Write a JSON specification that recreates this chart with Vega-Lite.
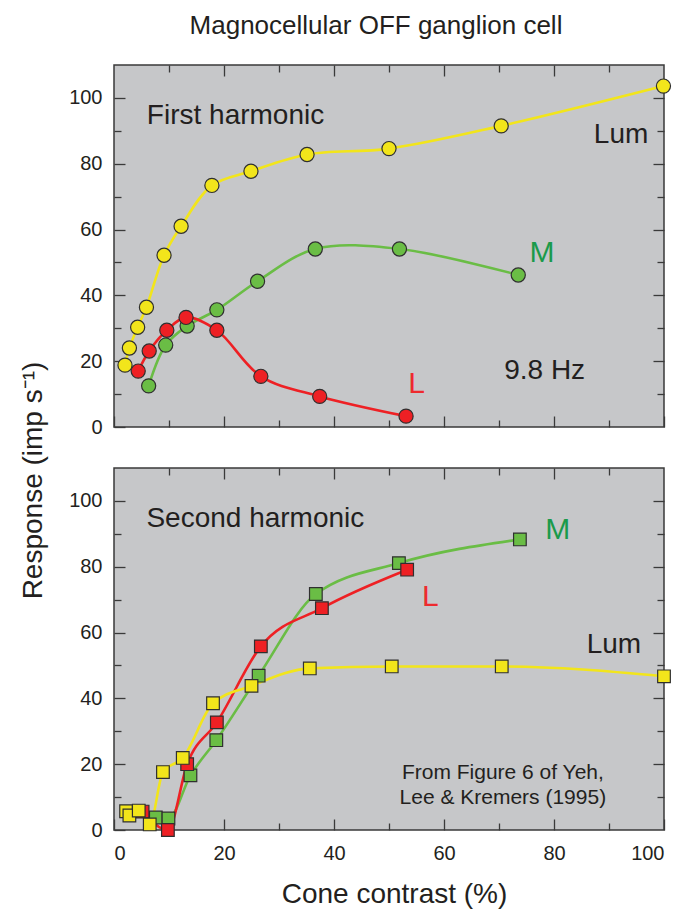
{
  "$schema": "https://vega.github.io/schema/vega-lite/v6.json",
  "padding": {"left": 18, "top": 12, "right": 5, "bottom": 3},
  "background": "white",
  "title": {"text": "Magnocellular OFF ganglion cell", "fontSize": 26, "font": "Liberation Sans", "fontWeight": "normal", "color": "#231f20", "anchor": "middle", "frame": "group", "dx": -13, "offset": 4, "baseline": "alphabetic"},
  "config": {
    "font": "Liberation Sans",
    "view": {"fill": "#c6c7c9", "stroke": "#3a3a3a", "strokeWidth": 1.5},
    "axis": {"domain": false, "grid": false, "tickColor": "#3a3a3a", "tickWidth": 1.3, "labelFont": "Liberation Sans", "labelFontSize": 20, "labelColor": "#231f20", "titleFont": "Liberation Sans", "titleFontWeight": "normal", "titleColor": "#231f20", "titleFontSize": 28}
  },
  "datasets": {
    "pts": [
      {"h": "First", "cone": "M", "c": 6.3, "r": 12.5},
      {"h": "First", "cone": "M", "c": 9.4, "r": 24.9},
      {"h": "First", "cone": "M", "c": 13.3, "r": 30.7},
      {"h": "First", "cone": "M", "c": 18.7, "r": 35.6},
      {"h": "First", "cone": "M", "c": 26.1, "r": 44.3},
      {"h": "First", "cone": "M", "c": 36.6, "r": 54.1},
      {"h": "First", "cone": "M", "c": 51.9, "r": 54.1},
      {"h": "First", "cone": "M", "c": 73.5, "r": 46.2},
      {"h": "First", "cone": "L", "c": 4.4, "r": 17.0},
      {"h": "First", "cone": "L", "c": 6.4, "r": 23.1},
      {"h": "First", "cone": "L", "c": 9.6, "r": 29.4},
      {"h": "First", "cone": "L", "c": 13.1, "r": 33.3},
      {"h": "First", "cone": "L", "c": 18.7, "r": 29.4},
      {"h": "First", "cone": "L", "c": 26.7, "r": 15.4},
      {"h": "First", "cone": "L", "c": 37.4, "r": 9.3},
      {"h": "First", "cone": "L", "c": 53.1, "r": 3.3},
      {"h": "First", "cone": "Lum", "c": 2.0, "r": 18.8},
      {"h": "First", "cone": "Lum", "c": 2.8, "r": 24.0},
      {"h": "First", "cone": "Lum", "c": 4.3, "r": 30.3},
      {"h": "First", "cone": "Lum", "c": 5.9, "r": 36.4},
      {"h": "First", "cone": "Lum", "c": 9.1, "r": 52.2},
      {"h": "First", "cone": "Lum", "c": 12.2, "r": 61.0},
      {"h": "First", "cone": "Lum", "c": 17.8, "r": 73.4},
      {"h": "First", "cone": "Lum", "c": 24.9, "r": 77.7},
      {"h": "First", "cone": "Lum", "c": 35.1, "r": 82.8},
      {"h": "First", "cone": "Lum", "c": 50.0, "r": 84.6},
      {"h": "First", "cone": "Lum", "c": 70.4, "r": 91.5},
      {"h": "First", "cone": "Lum", "c": 99.9, "r": 103.6},
      {"h": "Second", "cone": "M", "c": 7.6, "r": 3.8},
      {"h": "Second", "cone": "M", "c": 9.9, "r": 3.5},
      {"h": "Second", "cone": "M", "c": 13.9, "r": 16.6},
      {"h": "Second", "cone": "M", "c": 18.6, "r": 27.3},
      {"h": "Second", "cone": "M", "c": 26.3, "r": 46.9},
      {"h": "Second", "cone": "M", "c": 36.7, "r": 71.7},
      {"h": "Second", "cone": "M", "c": 51.8, "r": 81.1},
      {"h": "Second", "cone": "M", "c": 73.8, "r": 88.3},
      {"h": "Second", "cone": "L", "c": 5.2, "r": 5.6},
      {"h": "Second", "cone": "L", "c": 9.8, "r": 0.0},
      {"h": "Second", "cone": "L", "c": 13.3, "r": 20.0},
      {"h": "Second", "cone": "L", "c": 18.7, "r": 32.7},
      {"h": "Second", "cone": "L", "c": 26.7, "r": 55.8},
      {"h": "Second", "cone": "L", "c": 37.8, "r": 67.4},
      {"h": "Second", "cone": "L", "c": 53.3, "r": 79.1},
      {"h": "Second", "cone": "Lum", "c": 2.2, "r": 5.7},
      {"h": "Second", "cone": "Lum", "c": 2.8, "r": 4.4},
      {"h": "Second", "cone": "Lum", "c": 4.5, "r": 5.9},
      {"h": "Second", "cone": "Lum", "c": 6.5, "r": 1.7},
      {"h": "Second", "cone": "Lum", "c": 8.9, "r": 17.6},
      {"h": "Second", "cone": "Lum", "c": 12.5, "r": 21.9},
      {"h": "Second", "cone": "Lum", "c": 18.0, "r": 38.5},
      {"h": "Second", "cone": "Lum", "c": 25.0, "r": 43.8},
      {"h": "Second", "cone": "Lum", "c": 35.6, "r": 49.1},
      {"h": "Second", "cone": "Lum", "c": 50.5, "r": 49.7},
      {"h": "Second", "cone": "Lum", "c": 70.5, "r": 49.7},
      {"h": "Second", "cone": "Lum", "c": 100.0, "r": 46.7}
    ],
    "notes": [
      {"h": "First", "label": "First harmonic", "c": 22.1, "r": 92.1},
      {"h": "First", "label": "Lum", "c": 92.2, "r": 86.2},
      {"h": "First", "label": "9.8 Hz", "c": 78.3, "r": 14.5},
      {"h": "First", "label": "M", "c": 77.8, "r": 50.0},
      {"h": "First", "label": "L", "c": 55.0, "r": 10.3},
      {"h": "Second", "label": "Second harmonic", "c": 25.7, "r": 92.0},
      {"h": "Second", "label": "Lum", "c": 90.9, "r": 53.7},
      {"h": "Second", "label": "M", "c": 80.7, "r": 88.4},
      {"h": "Second", "label": "L", "c": 57.5, "r": 68.2},
      {"h": "Second", "label": "From Figure 6 of Yeh,", "c": 70.7, "r": 15.6},
      {"h": "Second", "label": "Lee & Kremers (1995)", "c": 70.7, "r": 7.8}
    ]
  },
  "spacing": 41,
  "bounds": "flush",
  "vconcat": [
    {
      "width": 550,
      "height": 362,
      "resolve": {"axis": {"x": "independent", "y": "independent"}, "scale": {"color": "independent"}},
      "layer": [
        {
          "data": {"name": "pts"},
          "transform": [{"filter": "datum.h == 'First'"}],
          "mark": {"type": "line", "interpolate": "catmull-rom", "strokeWidth": 2.6},
          "encoding": {
            "x": {"field": "c", "type": "quantitative", "scale": {"domain": [0, 100], "nice": false}, "axis": {"orient": "bottom", "values": [0, 20, 40, 60, 80, 100], "tickSize": -11, "labels": false, "title": null}},
            "y": {"field": "r", "type": "quantitative", "scale": {"domain": [0, 110], "nice": false}, "axis": {"orient": "left", "values": [0, 20, 40, 60, 80, 100], "tickSize": -11, "labelPadding": 23, "title": "Response (imp s⁻¹)", "titleAngle": -90, "titleX": -73, "titleY": 415, "titleAlign": "center", "titleBaseline": "alphabetic"}},
            "color": {"field": "cone", "type": "nominal", "scale": {"domain": ["Lum", "M", "L"], "range": ["#f2e51b", "#6abd45", "#ee2024"]}, "legend": null}
          }
        },
        {
          "data": {"name": "pts"},
          "transform": [{"filter": "datum.h == 'First'"}],
          "mark": {"type": "point", "shape": "circle", "filled": true, "size": 200, "stroke": "#2f2f2f", "strokeWidth": 1.2, "opacity": 1},
          "encoding": {
            "x": {"field": "c", "type": "quantitative", "axis": {"orient": "bottom", "values": [10, 30, 50, 70, 90], "tickSize": -7, "labels": false, "title": null}},
            "y": {"field": "r", "type": "quantitative", "axis": {"orient": "left", "values": [10, 30, 50, 70, 90], "tickSize": -7, "labels": false, "title": null}},
            "fill": {"field": "cone", "type": "nominal", "scale": {"domain": ["Lum", "M", "L"], "range": ["#f2e51b", "#6abd45", "#ee2024"]}, "legend": null}
          }
        },
        {
          "data": {"name": "notes"},
          "transform": [{"filter": "datum.h == 'First' && datum.label != 'M' && datum.label != 'L'"}],
          "mark": {"type": "text", "fontSize": 28, "align": "center", "baseline": "alphabetic", "color": "#231f20"},
          "encoding": {
            "x": {"field": "c", "type": "quantitative", "axis": {"orient": "top", "values": [20, 40, 60, 80], "tickSize": -11, "labels": false, "title": null}},
            "y": {"field": "r", "type": "quantitative", "axis": {"orient": "right", "values": [20, 40, 60, 80, 100], "tickSize": -11, "labels": false, "title": null}},
            "text": {"field": "label"}
          }
        },
        {
          "data": {"name": "notes"},
          "transform": [{"filter": "datum.h == 'First' && (datum.label == 'M' || datum.label == 'L')"}],
          "mark": {"type": "text", "fontSize": 30, "align": "center", "baseline": "alphabetic"},
          "encoding": {
            "x": {"field": "c", "type": "quantitative", "axis": {"orient": "top", "values": [10, 30, 50, 70, 90], "tickSize": -7, "labels": false, "title": null}},
            "y": {"field": "r", "type": "quantitative", "axis": {"orient": "right", "values": [10, 30, 50, 70, 90], "tickSize": -7, "labels": false, "title": null}},
            "text": {"field": "label"},
            "color": {"field": "label", "type": "nominal", "scale": {"domain": ["M", "L"], "range": ["#1b9a4b", "#ee2a2e"]}, "legend": null}
          }
        }
      ]
    },
    {
      "width": 550,
      "height": 362,
      "resolve": {"axis": {"x": "independent", "y": "independent"}, "scale": {"color": "independent"}},
      "layer": [
        {
          "data": {"name": "pts"},
          "transform": [{"filter": "datum.h == 'Second'"}],
          "mark": {"type": "line", "interpolate": "monotone", "strokeWidth": 2.6},
          "encoding": {
            "x": {"field": "c", "type": "quantitative", "scale": {"domain": [0, 100], "nice": false}, "axis": {"orient": "bottom", "values": [0, 20, 40, 60, 80, 100], "tickSize": -11, "labelPadding": 24, "title": "Cone contrast (%)", "titleX": 280, "titleY": 72, "titleAlign": "center", "titleBaseline": "alphabetic"}},
            "y": {"field": "r", "type": "quantitative", "scale": {"domain": [0, 110], "nice": false}, "axis": {"orient": "left", "values": [0, 20, 40, 60, 80, 100], "tickSize": -11, "labelPadding": 23, "title": null}},
            "color": {"field": "cone", "type": "nominal", "scale": {"domain": ["Lum", "M", "L"], "range": ["#f2e51b", "#6abd45", "#ee2024"]}, "legend": null}
          }
        },
        {
          "data": {"name": "pts"},
          "transform": [{"filter": "datum.h == 'Second'"}],
          "mark": {"type": "point", "shape": "square", "filled": true, "size": 160, "stroke": "#2f2f2f", "strokeWidth": 1.2, "opacity": 1},
          "encoding": {
            "x": {"field": "c", "type": "quantitative", "axis": {"orient": "bottom", "values": [10, 30, 50, 70, 90], "tickSize": -7, "labels": false, "title": null}},
            "y": {"field": "r", "type": "quantitative", "axis": {"orient": "left", "values": [10, 30, 50, 70, 90], "tickSize": -7, "labels": false, "title": null}},
            "fill": {"field": "cone", "type": "nominal", "scale": {"domain": ["Lum", "M", "L"], "range": ["#f2e51b", "#6abd45", "#ee2024"]}, "legend": null}
          }
        },
        {
          "data": {"name": "notes"},
          "transform": [{"filter": "datum.h == 'Second' && (datum.label == 'Second harmonic' || datum.label == 'Lum')"}],
          "mark": {"type": "text", "fontSize": 28, "align": "center", "baseline": "alphabetic", "color": "#231f20"},
          "encoding": {
            "x": {"field": "c", "type": "quantitative", "axis": {"orient": "top", "values": [20, 40, 60, 80], "tickSize": -11, "labels": false, "title": null}},
            "y": {"field": "r", "type": "quantitative", "axis": {"orient": "right", "values": [20, 40, 60, 80, 100], "tickSize": -11, "labels": false, "title": null}},
            "text": {"field": "label"}
          }
        },
        {
          "data": {"name": "notes"},
          "transform": [{"filter": "datum.h == 'Second' && (datum.label == 'M' || datum.label == 'L')"}],
          "mark": {"type": "text", "fontSize": 30, "align": "center", "baseline": "alphabetic"},
          "encoding": {
            "x": {"field": "c", "type": "quantitative", "axis": {"orient": "top", "values": [10, 30, 50, 70, 90], "tickSize": -7, "labels": false, "title": null}},
            "y": {"field": "r", "type": "quantitative", "axis": {"orient": "right", "values": [10, 30, 50, 70, 90], "tickSize": -7, "labels": false, "title": null}},
            "text": {"field": "label"},
            "color": {"field": "label", "type": "nominal", "scale": {"domain": ["M", "L"], "range": ["#1b9a4b", "#ee2a2e"]}, "legend": null}
          }
        },
        {
          "data": {"name": "notes"},
          "transform": [{"filter": "datum.h == 'Second' && (datum.label == 'From Figure 6 of Yeh,' || datum.label == 'Lee & Kremers (1995)')"}],
          "mark": {"type": "text", "fontSize": 21, "align": "center", "baseline": "alphabetic", "color": "#231f20"},
          "encoding": {
            "x": {"field": "c", "type": "quantitative", "axis": null},
            "y": {"field": "r", "type": "quantitative", "axis": null},
            "text": {"field": "label"}
          }
        }
      ]
    }
  ]
}
